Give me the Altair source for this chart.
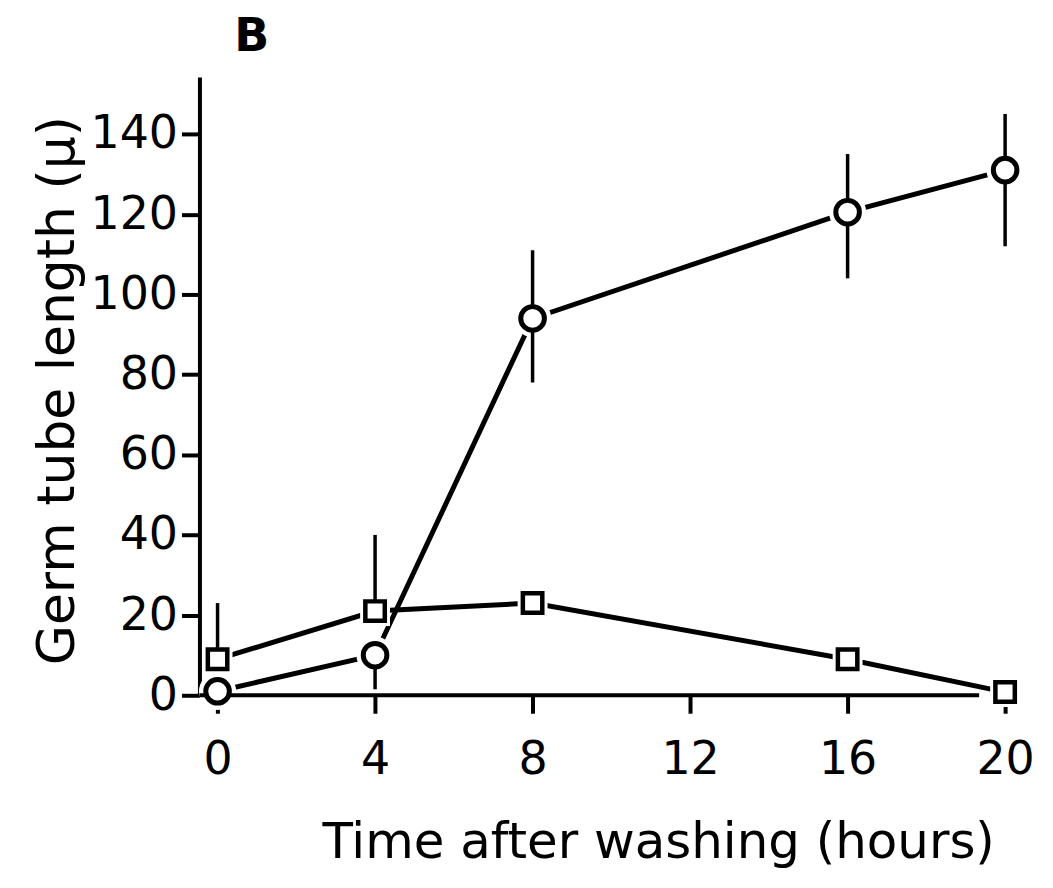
import altair as alt
import pandas as pd

hours = [0, 4, 8, 16, 20]
circle_vals = [1, 10, 94, 120.5, 131]
square_vals = [9, 21, 23, 9, 0.8]

# error bars (low, high); None where not visible
circle_lo = [None, 1.5, 78, 104, 112]
circle_hi = [None, 10, 111, 135, 145]
square_lo = [9, 21, None, None, None]
square_hi = [23, 40, None, None, None]

x_ticks = [0, 4, 8, 12, 16, 20]
y_ticks = [0, 20, 40, 60, 80, 100, 120, 140]

FONT = "DejaVu Sans"

pts = pd.DataFrame(
    {"hour": hours * 2,
     "value": circle_vals + square_vals,
     "series": ["circle"] * 5 + ["square"] * 5}
)
err_rows = []
for h, lo, hi in zip(hours, circle_lo, circle_hi):
    if lo is not None:
        err_rows.append({"hour": h, "lo": lo, "hi": hi, "series": "circle"})
for h, lo, hi in zip(hours, square_lo, square_hi):
    if lo is not None:
        err_rows.append({"hour": h, "lo": lo, "hi": hi, "series": "square"})
err = pd.DataFrame(err_rows)
axis_line = pd.DataFrame({"x0": [-0.46], "x1": [19.34], "y": [0]})

xscale = alt.Scale(domain=[-0.46, 20.0], nice=False, zero=False)
yscale = alt.Scale(domain=[0, 154.2], nice=False)

xaxis = alt.Axis(values=x_ticks, domain=False, grid=False, tickSize=18, tickWidth=4,
                 tickColor="black", labelFontSize=46, labelFont=FONT, labelColor="black",
                 labelPadding=24, labelFlush=False,
                 title="Time after washing (hours)", titleFont=FONT,
                 titleFontSize=50, titleFontWeight="normal", titleColor="black",
                 titlePadding=36, titleX=460, titleAlign="center")
yaxis = alt.Axis(values=y_ticks, domain=True, domainWidth=4, domainColor="black", grid=False,
                 tickSize=18, tickWidth=4, tickColor="black", labelFontSize=46, labelFont=FONT,
                 labelColor="black", labelPadding=4, labelFlush=False,
                 title="Germ tube length (μ)", titleFont=FONT,
                 titleFontSize=52, titleFontWeight="normal", titleColor="black", titlePadding=6,
                 titleY=314)

base = alt.Chart(pts)
X = alt.X("hour:Q", scale=xscale, axis=xaxis)
Y = alt.Y("value:Q", scale=yscale, axis=yaxis)

lines = base.mark_line(color="black", strokeWidth=5).encode(x=X, y=Y, detail="series:N")
halo_c = base.transform_filter(alt.datum.series == "circle").mark_point(
    shape="circle", filled=True, color="white", size=1400, opacity=1).encode(x=X, y=Y)
halo_s = base.transform_filter(alt.datum.series == "square").mark_point(
    shape="square", filled=True, color="white", size=900, opacity=1).encode(x=X, y=Y)
bars = alt.Chart(err).mark_rule(color="black", strokeWidth=3.5).encode(
    x=alt.X("hour:Q", scale=xscale), y=alt.Y("lo:Q", scale=yscale), y2="hi:Q")
circ = base.transform_filter(alt.datum.series == "circle").mark_point(
    shape="circle", filled=False, fill="white", stroke="black", strokeWidth=5, size=560,
    opacity=1, fillOpacity=1).encode(x=X, y=Y)
sq = base.transform_filter(alt.datum.series == "square").mark_point(
    shape="square", filled=False, fill="white", stroke="black", strokeWidth=4.5, size=380,
    opacity=1, fillOpacity=1).encode(x=X, y=Y)
xline = alt.Chart(axis_line).mark_rule(color="black", strokeWidth=4).encode(
    x=alt.X("x0:Q", scale=xscale), x2="x1:Q", y=alt.Y("y:Q", scale=yscale))

chart = alt.layer(lines, halo_c, halo_s, bars, xline, circ, sq).properties(
    width=808, height=620, autosize="none", background="white",
    padding={"left": 192, "top": 68, "right": 40, "bottom": 190},
    title=alt.TitleParams("B", anchor="start", frame="group", fontSize=46, fontWeight="bold",
                          font=FONT, color="black", dx=35, offset=16),
).configure_view(strokeWidth=0)

chart.save("out.html", embed_options={"renderer": "svg", "actions": False})
